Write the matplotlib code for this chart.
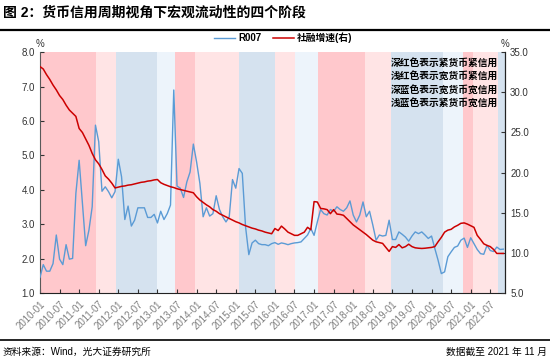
import matplotlib
matplotlib.use("Agg")
import matplotlib.pyplot as plt
import pandas as pd

plt.rcParams['font.family'] = ['Liberation Sans', 'Noto Sans CJK SC']
plt.rcParams['axes.unicode_minus'] = False

# monthly data, 2010-01 .. 2021-11
months = pd.date_range("2010-01-01", "2021-11-01", freq="MS")

r007 = [
    1.46, 1.83, 1.64, 1.64, 1.86, 2.69, 1.99, 1.83, 2.41, 1.99,
    2.01, 3.90, 4.86, 3.60, 2.38, 2.83, 3.51, 5.88, 5.40, 3.96,
    4.09, 3.95, 3.77, 3.95, 4.89, 4.38, 3.14, 3.53, 2.95, 3.12,
    3.48, 3.48, 3.48, 3.20, 3.20, 3.29, 3.04, 3.38, 3.14, 3.31,
    3.56, 6.90, 4.11, 4.05, 3.78, 4.23, 4.52, 5.33, 4.81, 4.19,
    3.22, 3.48, 3.24, 3.31, 3.83, 3.43, 3.22, 3.07, 3.22, 4.30,
    4.05, 4.62, 4.48, 2.93, 2.12, 2.46, 2.54, 2.44, 2.41, 2.41,
    2.38, 2.44, 2.47, 2.42, 2.46, 2.44, 2.41, 2.44, 2.46, 2.47,
    2.49, 2.59, 2.69, 2.88, 2.68, 3.07, 3.43, 3.31, 3.27, 3.43,
    3.38, 3.51, 3.43, 3.38, 3.48, 3.68, 3.27, 3.07, 3.27, 3.65,
    3.22, 3.38, 2.98, 2.54, 2.69, 2.66, 2.68, 3.12, 2.56, 2.56,
    2.78, 2.71, 2.63, 2.51, 2.66, 2.78, 2.73, 2.78, 2.69, 2.59,
    2.66, 2.30, 1.96, 1.57, 1.62, 2.06, 2.20, 2.33, 2.37, 2.54,
    2.60, 2.33, 2.61, 2.44, 2.27, 2.15, 2.13, 2.39, 2.24, 2.21,
    2.34, 2.27, 2.28,
]

tsf_growth = [
    33.2, 32.9, 32.2, 31.6, 30.9, 30.3, 29.6, 29.1, 28.4, 27.8,
    27.4, 27.0, 25.5, 25.0, 24.2, 23.4, 22.4, 21.6, 21.1, 20.4,
    19.6, 19.2, 18.7, 18.1, 18.2, 18.3, 18.35, 18.45, 18.5, 18.6,
    18.7, 18.8, 18.85, 18.95, 19.0, 19.1, 19.15, 18.75, 18.55, 18.4,
    18.25, 18.15, 18.0, 17.9, 17.8, 17.7, 17.6, 17.5, 17.0, 16.6,
    16.3, 16.0, 15.75, 15.4, 15.2, 14.9, 14.7, 14.5, 14.3, 14.1,
    13.9, 13.75, 13.55, 13.4, 13.25, 13.1, 13.0, 12.85, 12.75, 12.6,
    12.5, 12.4, 13.05, 12.8, 13.35, 13.0, 12.6, 12.4, 12.2, 12.2,
    12.4, 12.6, 13.2, 12.9, 16.4, 16.35, 15.55, 15.5, 15.4, 14.9,
    15.4, 14.85, 14.8, 14.7, 14.3, 13.9, 13.5, 13.2, 12.9, 12.6,
    12.3, 11.95, 11.6, 11.4, 11.3, 11.2, 10.7, 10.2, 10.8, 10.7,
    11.05, 10.65, 10.8, 11.1, 10.8, 10.65, 10.6, 10.57, 10.6, 10.65,
    10.7, 10.8, 11.4, 11.95, 12.6, 12.85, 12.95, 13.25, 13.45, 13.7,
    13.75, 13.6, 13.4, 13.2, 12.2, 11.7, 11.15, 10.95, 10.8, 10.45,
    9.95, 9.95, 9.95,
]

# phases: (start, end) in months since 2010-01, and phase type
phase_edges = [0, 17.2, 23.4, 35.9, 41.5, 47.4, 61.0, 72.1, 78.2, 85.3,
               99.6, 107.5, 123.6, 129.7, 132.6, 140.3, 142.6]
phase_kind = ["tight_tight", "loose_tight", "loose_loose", "tight_loose",
              "tight_tight", "loose_tight", "loose_loose", "loose_tight",
              "tight_loose", "tight_tight", "loose_tight", "loose_loose",
              "tight_loose", "tight_tight", "loose_tight", "loose_loose"]

phase_notes = ["深红色表示紧货币紧信用", "浅红色表示宽货币紧信用",
               "深蓝色表示宽货币宽信用", "浅蓝色表示紧货币宽信用"]

phase_colors = {
    "tight_tight": "#FFC8CC",
    "loose_tight": "#FFE4E5",
    "loose_loose": "#D5E2EF",
    "tight_loose": "#EDF4FB",
}

x = list(range(len(months)))
assert len(r007) == len(x) and len(tsf_growth) == len(x)

fig = plt.figure(figsize=(5.5, 3.62), dpi=100)
ax = fig.add_axes([0.0727, 0.19, 0.846, 0.666])
ax2 = ax.twinx()

for i, kind in enumerate(phase_kind):
    ax.axvspan(phase_edges[i], phase_edges[i + 1], color=phase_colors[kind],
               lw=0, zorder=0)

l1, = ax.plot(x, r007, color="#5B9BD5", lw=1.0, label="R007", zorder=3)
l2, = ax2.plot(x, tsf_growth, color="#CC0000", lw=1.1, label="社融增速(右)", zorder=3)

ax.set_xlim(0, phase_edges[-1])
ax.set_ylim(1.0, 8.0)
ax2.set_ylim(5.0, 35.0)
ax.set_yticks([1, 2, 3, 4, 5, 6, 7, 8])
ax.set_yticklabels(["%.1f" % v for v in ax.get_yticks()])
ax2.set_yticks([5, 10, 15, 20, 25, 30, 35])
ax2.set_yticklabels(["%.1f" % v for v in ax2.get_yticks()])

tick_pos = x[::6]
ax.set_xticks(tick_pos)
ax.set_xticklabels([months[i].strftime("%Y-%m") for i in tick_pos],
                   rotation=45, ha="right", rotation_mode="anchor")

for a in (ax, ax2):
    a.tick_params(direction="in", length=3, width=0.8, labelsize=7,
                  colors="#333333")
    a.spines["top"].set_visible(False)
ax.tick_params(axis="x", labelcolor="#7f7f7f", pad=4)
ax.spines["left"].set_color("#595959")
ax2.spines["right"].set_color("#222222")
ax.spines["bottom"].set_color("#222222")
ax2.spines["left"].set_visible(False)
ax2.spines["bottom"].set_visible(False)
ax.set_zorder(ax2.get_zorder() - 1)
ax2.patch.set_visible(False)

ax.text(0.0, 1.015, "%", transform=ax.transAxes, fontsize=7, ha="center",
        va="bottom", color="#333333")
ax2.text(1.0, 1.015, "%", transform=ax.transAxes, fontsize=7, ha="center",
         va="bottom", color="#333333")

ax2.text(0.985, 0.975, "\n".join(phase_notes), transform=ax.transAxes,
         ha="right", va="top", fontsize=7, fontweight="bold",
         linespacing=1.45, zorder=5)

fig.legend(handles=[l1, l2], loc="center", bbox_to_anchor=(0.515, 0.895),
           ncol=2, frameon=False, fontsize=7, handlelength=2.2,
           columnspacing=1.2, handletextpad=0.3,
           prop={"weight": "bold", "size": 7})

# title and footer
fig.text(0.005, 0.965, "图 2：货币信用周期视角下宏观流动性的四个阶段",
         fontsize=10, fontweight="bold", ha="left", va="center")
fig.add_artist(plt.Line2D([0, 1], [0.918, 0.918], color="black", lw=1.6,
                          transform=fig.transFigure))
fig.add_artist(plt.Line2D([0, 1], [0.06, 0.06], color="black", lw=1.2,
                          transform=fig.transFigure))
fig.text(0.005, 0.027, "资料来源：Wind，光大证券研究所", fontsize=7,
         ha="left", va="center")
fig.text(0.995, 0.027, "数据截至 2021 年 11 月", fontsize=7,
         ha="right", va="center")

fig.savefig("out.png", dpi=100)
